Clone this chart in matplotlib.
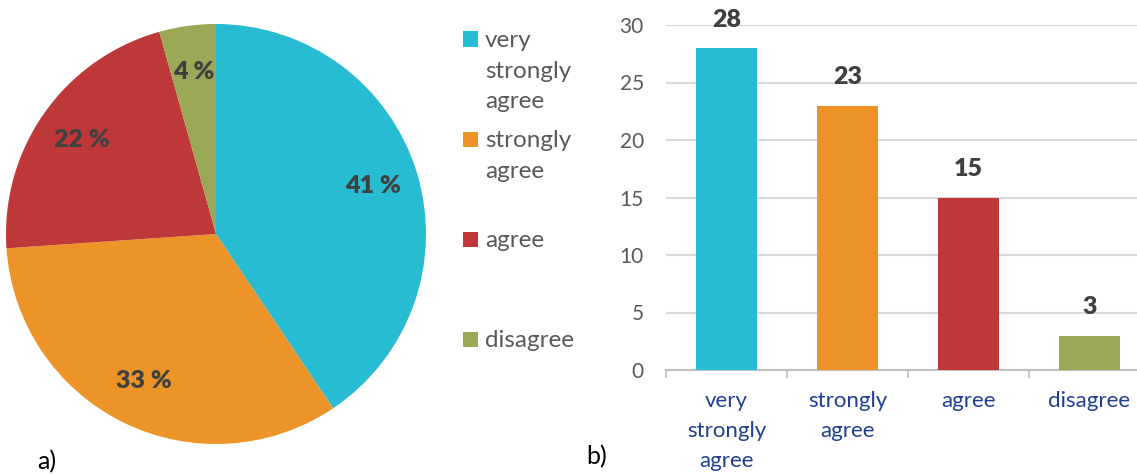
import matplotlib.pyplot as plt
from matplotlib.patches import Rectangle

plt.rcParams['font.family'] = ['Lato', 'DejaVu Sans']

categories = ["very strongly agree", "strongly agree", "agree", "disagree"]
legend_labels = ["very\nstrongly\nagree", "strongly\nagree", "agree", "disagree"]
tick_labels = ["very\nstrongly\nagree", "strongly\nagree", "agree", "disagree"]
counts = [28, 23, 15, 3]
colors = ["#27BCD1", "#EC9428", "#BE3739", "#9BA857"]

W, H = 1137, 474
fig = plt.figure(figsize=(W / 100, H / 100), dpi=100)

# ---- a) pie
ax1 = fig.add_axes([6 / W, 30 / H, 420 / W, 420 / H])
wedges, texts, autotexts = ax1.pie(
    counts, colors=colors, startangle=90, counterclock=False,
    autopct=lambda p: f"{p:.0f} %", pctdistance=0.78,
    wedgeprops=dict(linewidth=0),
    textprops=dict(fontsize=18, fontweight='heavy', color='#404040'))
ax1.set_xlim(-1, 1)
ax1.set_ylim(-1, 1)

# legend drawn by hand so rows keep the even 100px spacing
for i, (lab, c) in enumerate(zip(legend_labels, colors)):
    yc = 39 + 100 * i
    fig.add_artist(Rectangle((463 / W, 1 - (yc + 7.5) / H), 15 / W, 15 / H,
                             transform=fig.transFigure, color=c, lw=0))
    fig.text(485 / W, 1 - (yc - 9) / H, lab, fontsize=17.5, color='#595959',
             va='top', ha='left', linespacing=1.56)

fig.text(47 / W, 1 - 462 / H, "a)", fontsize=18, ha='center', va='center')
fig.text(597 / W, 1 - 457 / H, "b)", fontsize=18, ha='center', va='center')

# ---- b) bars
ax2 = fig.add_axes([666 / W, 104 / H, 484 / W, 345 / H])
x = range(len(counts))
bars = ax2.bar(x, counts, width=0.5, color=colors, zorder=3)
ax2.set_ylim(0, 30)
ax2.set_xlim(-0.5, 3.5)
ax2.set_yticks(range(0, 31, 5))
ax2.grid(axis='y', color='#D9D9D9', linewidth=1.5, zorder=0)
ax2.set_xticks(list(x))
ax2.set_xticklabels(tick_labels, fontsize=16, color='#203F90', linespacing=1.64)
ax2.set_xticks([-0.5, 0.5, 1.5, 2.5, 3.5], minor=True)
ax2.tick_params(axis='x', which='major', length=0, pad=15)
ax2.tick_params(axis='x', which='minor', length=6, color='#BFBFBF', width=1.2)
ax2.tick_params(axis='y', length=0, pad=16, labelsize=15, labelcolor='#595959')
for s in ['top', 'right', 'left']:
    ax2.spines[s].set_visible(False)
ax2.spines['bottom'].set_color('#BFBFBF')
ax2.spines['bottom'].set_linewidth(1.5)

for b, v in zip(bars, counts):
    ax2.annotate(str(v), (b.get_x() + b.get_width() / 2, v), xytext=(0, 28),
                 textcoords='offset pixels', ha='center', va='center',
                 fontsize=18, fontweight='heavy', color='#404040',
                 annotation_clip=False)

fig.savefig("out.png", dpi=100)
